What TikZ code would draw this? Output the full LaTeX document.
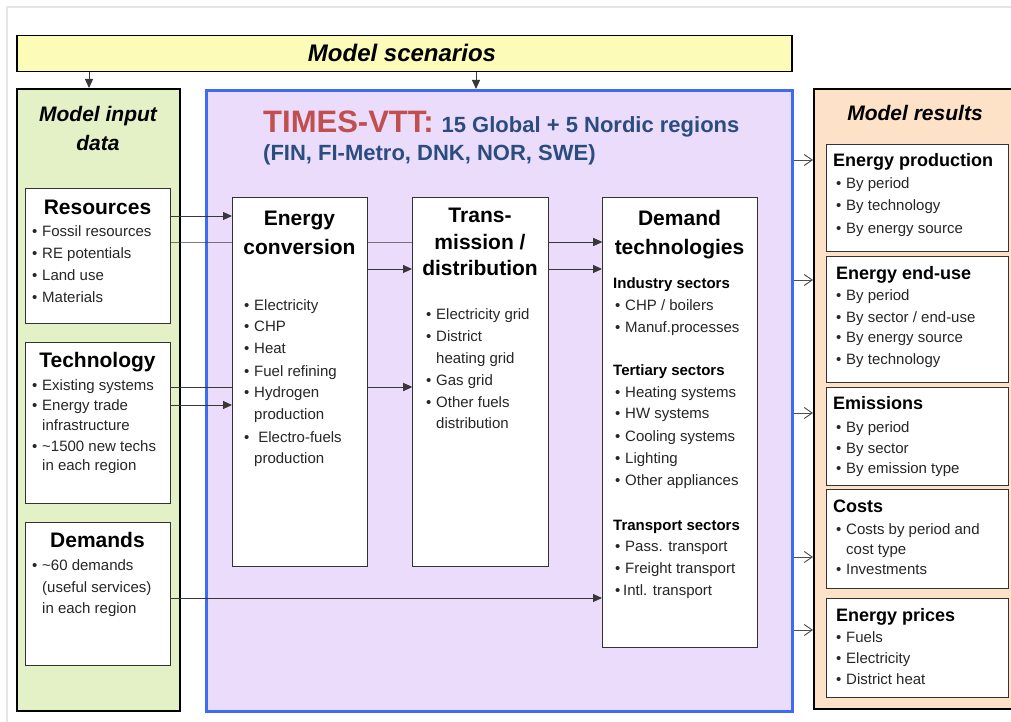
\documentclass[tikz,border=0pt]{standalone}
\usepackage{fontspec}
\setmainfont{Liberation Sans}
\usetikzlibrary{arrows.meta}

\definecolor{scenfill}{HTML}{FCFCB8}
\definecolor{inpfill}{HTML}{E4F0C6}
\definecolor{modfill}{HTML}{EBDCFC}
\definecolor{modline}{HTML}{3D6CF2}
\definecolor{resfill}{HTML}{FDE2C8}
\definecolor{timesred}{HTML}{C0504D}
\definecolor{navy}{HTML}{2B4C7E}

\newcommand\bu{\makebox[10pt][l]{\textbullet}}
\newcommand\nb{\hspace*{10pt}}

\tikzset{
  bigbox/.style={draw=black, line width=1.8pt, anchor=north west, inner sep=0pt},
  wbox/.style={draw=black!80, fill=white, line width=1.1pt, anchor=north west, inner sep=0pt},
  hd/.style={font=\fontsize{21}{25}\selectfont\bfseries\itshape, anchor=base, inner sep=0pt},
  ttl/.style={font=\fontsize{21}{25}\selectfont\bfseries, anchor=base, inner sep=0pt},
  rttl/.style={font=\fontsize{18}{22}\selectfont\bfseries, anchor=base west, inner sep=0pt},
  sub/.style={font=\fontsize{15}{18}\selectfont\bfseries, anchor=base west, inner sep=0pt},
  itm/.style={font=\fontsize{15}{18}\selectfont, text=black!85, anchor=base west, inner sep=0pt},
  arr/.style={draw=black!78, line width=1pt, -{Triangle[length=9pt,width=8pt]}},
  outarr/.style={draw=black!70, line width=0.9pt, -{Straight Barb[length=8pt,width=11pt,line width=0.9pt]}},
}

\begin{document}
\begin{tikzpicture}[x=1pt,y=-1pt]
\useasboundingbox (0,0) rectangle (1011,722);
\fill[white] (0,0) rectangle (1011,722);
\draw[black!10, line width=2pt] (7,722) -- (7,7) -- (1011,7);

% frames of the three columns and the scenario bar
\node[bigbox, fill=scenfill, line width=1.5pt, minimum width=775pt, minimum height=36pt] (scen) at (16,35) {};
\node[bigbox, fill=inpfill, minimum width=163pt, minimum height=622pt] (inp) at (16,88) {};
\node[bigbox, fill=modfill, draw=modline, line width=3pt, minimum width=586pt, minimum height=621pt] (mod) at (205,89) {};
\node[bigbox, fill=resfill, minimum width=210pt, minimum height=620pt] (out) at (813,88) {};

\node[font=\fontsize{24}{28}\selectfont\bfseries\itshape, anchor=base, inner sep=0pt] (scent) at (402,62) {Model scenarios};
\node[hd] (inpt1) at (98,122) {Model input};
\node[hd] (inpt2) at (98,151) {data};
\node[hd] (outt) at (915,121) {Model results};

\node[anchor=base west, inner sep=0pt, font=\bfseries] (hdr1) at (263,133)
  {{\fontsize{31}{36}\selectfont\color{timesred}TIMES-VTT:}\hspace{8pt}{\fontsize{22}{26}\selectfont\color{navy}15 Global + 5 Nordic regions}};
\node[anchor=base west, inner sep=0pt, font=\fontsize{22}{26}\selectfont\bfseries, text=navy] (hdr2) at (263,161)
  {(FIN, FI-Metro, DNK, NOR, SWE)};

% connector heights and columns
\coordinate (v89) at (89,0);
\coordinate (v476) at (476,0);
\foreach \h in {160,216,242,269,280,387,405,413,557,598,630}
  \coordinate (h\h) at (0,\h);

% inner boxes (white)
\node[wbox, minimum width=145pt, minimum height=135pt] (res) at (25,188) {};
\node[wbox, minimum width=145pt, minimum height=161pt] (tech) at (25,342) {};
\node[wbox, minimum width=145pt, minimum height=143pt] (dmd) at (25,522) {};

% connectors passing behind the process boxes
\draw[arr] (res.east |- h242) -- (mod.center |- h242) -- (602,242);
\draw[arr] (tech.east |- h387) -- (412,387);

\node[wbox, minimum width=135pt, minimum height=369pt] (conv) at (232,197) {};
\node[wbox, minimum width=136pt, minimum height=369pt] (trans) at (412,197) {};
\node[wbox, minimum width=155pt, minimum height=450pt] (dem) at (602,197) {};

\node[wbox, minimum width=182pt, minimum height=107pt] (prod) at (826,144) {};
\node[wbox, minimum width=182pt, minimum height=126pt] (use) at (826,256) {};
\node[wbox, minimum width=182pt, minimum height=98pt] (emis) at (826,387) {};
\node[wbox, minimum width=182pt, minimum height=99pt] (cost) at (826,489) {};
\node[wbox, minimum width=182pt, minimum height=99pt] (price) at (826,598) {};

% connectors
\draw[arr] (scen.south -| v89) -- (inp.north -| v89);
\draw[arr] (scen.south -| v476) -- (mod.north -| v476);
\draw[arr] (res.east |- h216) -- (conv.west |- h216);
\draw[arr] (trans.east |- h242) -- (dem.west |- h242);
\draw[arr] (conv.east |- h269) -- (trans.west |- h269);
\draw[arr] (trans.east |- h269) -- (dem.west |- h269);
\draw[arr] (conv.east |- h387) -- (trans.west |- h387);
\draw[arr] (tech.east |- h405) -- (conv.west |- h405);
\draw[arr] (dmd.east |- h598) -- (dem.west |- h598);
\foreach \h in {160,280,413,557,630}
  \draw[outarr] (mod.east |- h\h) -- (out.west |- h\h);

% input data
\node[ttl] (rest) at (97.5,214) {Resources};
\foreach \y/\t [count=\i] in {236/\bu Fossil resources, 258/\bu RE potentials, 280/\bu Land use, 302/\bu Materials}
  \node[itm] (res-\i) at (32,\y) {\t};
\node[ttl] (techt) at (97.5,367) {Technology};
\foreach \y/\t [count=\i] in {390/\bu Existing systems, 410/\bu Energy trade, 430/\nb infrastructure, 451/\bu \textasciitilde 1500 new techs, 470/\nb in each region}
  \node[itm] (tech-\i) at (32,\y) {\t};
\node[ttl] (dmdt) at (97.5,547) {Demands};
\foreach \y/\t [count=\i] in {570/\bu \textasciitilde 60 demands, 592/\nb (useful services), 613/\nb in each region}
  \node[itm] (dmd-\i) at (32,\y) {\t};

% energy conversion
\node[ttl] (convt1) at (299.5,225.5) {Energy};
\node[ttl] (convt2) at (299.5,254.5) {conversion};
\foreach \y/\t [count=\i] in {310/\bu Electricity, 331/\bu CHP, 353/\bu Heat, 376/\bu Fuel refining, 397/\bu Hydrogen, 419/\nb production, 442/\bu \ Electro-fuels, 463/\nb production}
  \node[itm] (conv-\i) at (244,\y) {\t};

% transmission / distribution
\node[ttl] (transt1) at (480,222.5) {Trans-};
\node[ttl] (transt2) at (480,249.5) {mission /};
\node[ttl] (transt3) at (480,275.5) {distribution};
\foreach \y/\t [count=\i] in {319/\bu Electricity grid, 341/\bu District, 363/\nb heating grid, 385/\bu Gas grid, 407/\bu Other fuels, 428/\nb distribution}
  \node[itm] (trans-\i) at (426,\y) {\t};

% demand technologies
\node[ttl] (demt1) at (679.5,225.5) {Demand};
\node[ttl] (demt2) at (679.5,254.5) {technologies};
\node[sub] (ind) at (613,288.5) {Industry sectors};
\node[sub] (ter) at (613,375.5) {Tertiary sectors};
\node[sub] (tra) at (613,530.5) {Transport sectors};
\foreach \y/\t [count=\i] in {310/{\bu CHP / boilers}, 332/\bu Manuf.processes, 397/\bu Heating systems, 418/\bu HW systems, 441/\bu Cooling systems, 463/\bu Lighting, 485/\bu Other appliances, 551/\bu Pass. transport, 573/\bu Freight transport}
  \node[itm] (dem-\i) at (615,\y) {\t};
\node[itm] (dem-10) at (615,595) {\makebox[8pt][l]{\textbullet}Intl. transport};

% model results
\node[rttl] (prodt) at (833,166.5) {Energy production};
\foreach \y/\t [count=\i] in {189/\bu By period, 211/\bu By technology, 233/\bu By energy source}
  \node[itm] (prod-\i) at (836,\y) {\t};
\node[rttl] (uset) at (836,279.5) {Energy end-use};
\foreach \y/\t [count=\i] in {300/\bu By period, 322/{\bu By sector / end-use}, 342/\bu By energy source, 364/\bu By technology}
  \node[itm] (use-\i) at (836,\y) {\t};
\node[rttl] (emist) at (833,409.5) {Emissions};
\foreach \y/\t [count=\i] in {432/\bu By period, 453/\bu By sector, 473/\bu By emission type}
  \node[itm] (emis-\i) at (836,\y) {\t};
\node[rttl] (costt) at (833,512.5) {Costs};
\foreach \y/\t [count=\i] in {534/\bu Costs by period and, 554/\nb cost type, 574/\bu Investments}
  \node[itm] (cost-\i) at (836,\y) {\t};
\node[rttl] (pricet) at (836,621.5) {Energy prices};
\foreach \y/\t [count=\i] in {642/\bu Fuels, 663/\bu Electricity, 684/\bu District heat}
  \node[itm] (price-\i) at (836,\y) {\t};
\end{tikzpicture}
\end{document}
